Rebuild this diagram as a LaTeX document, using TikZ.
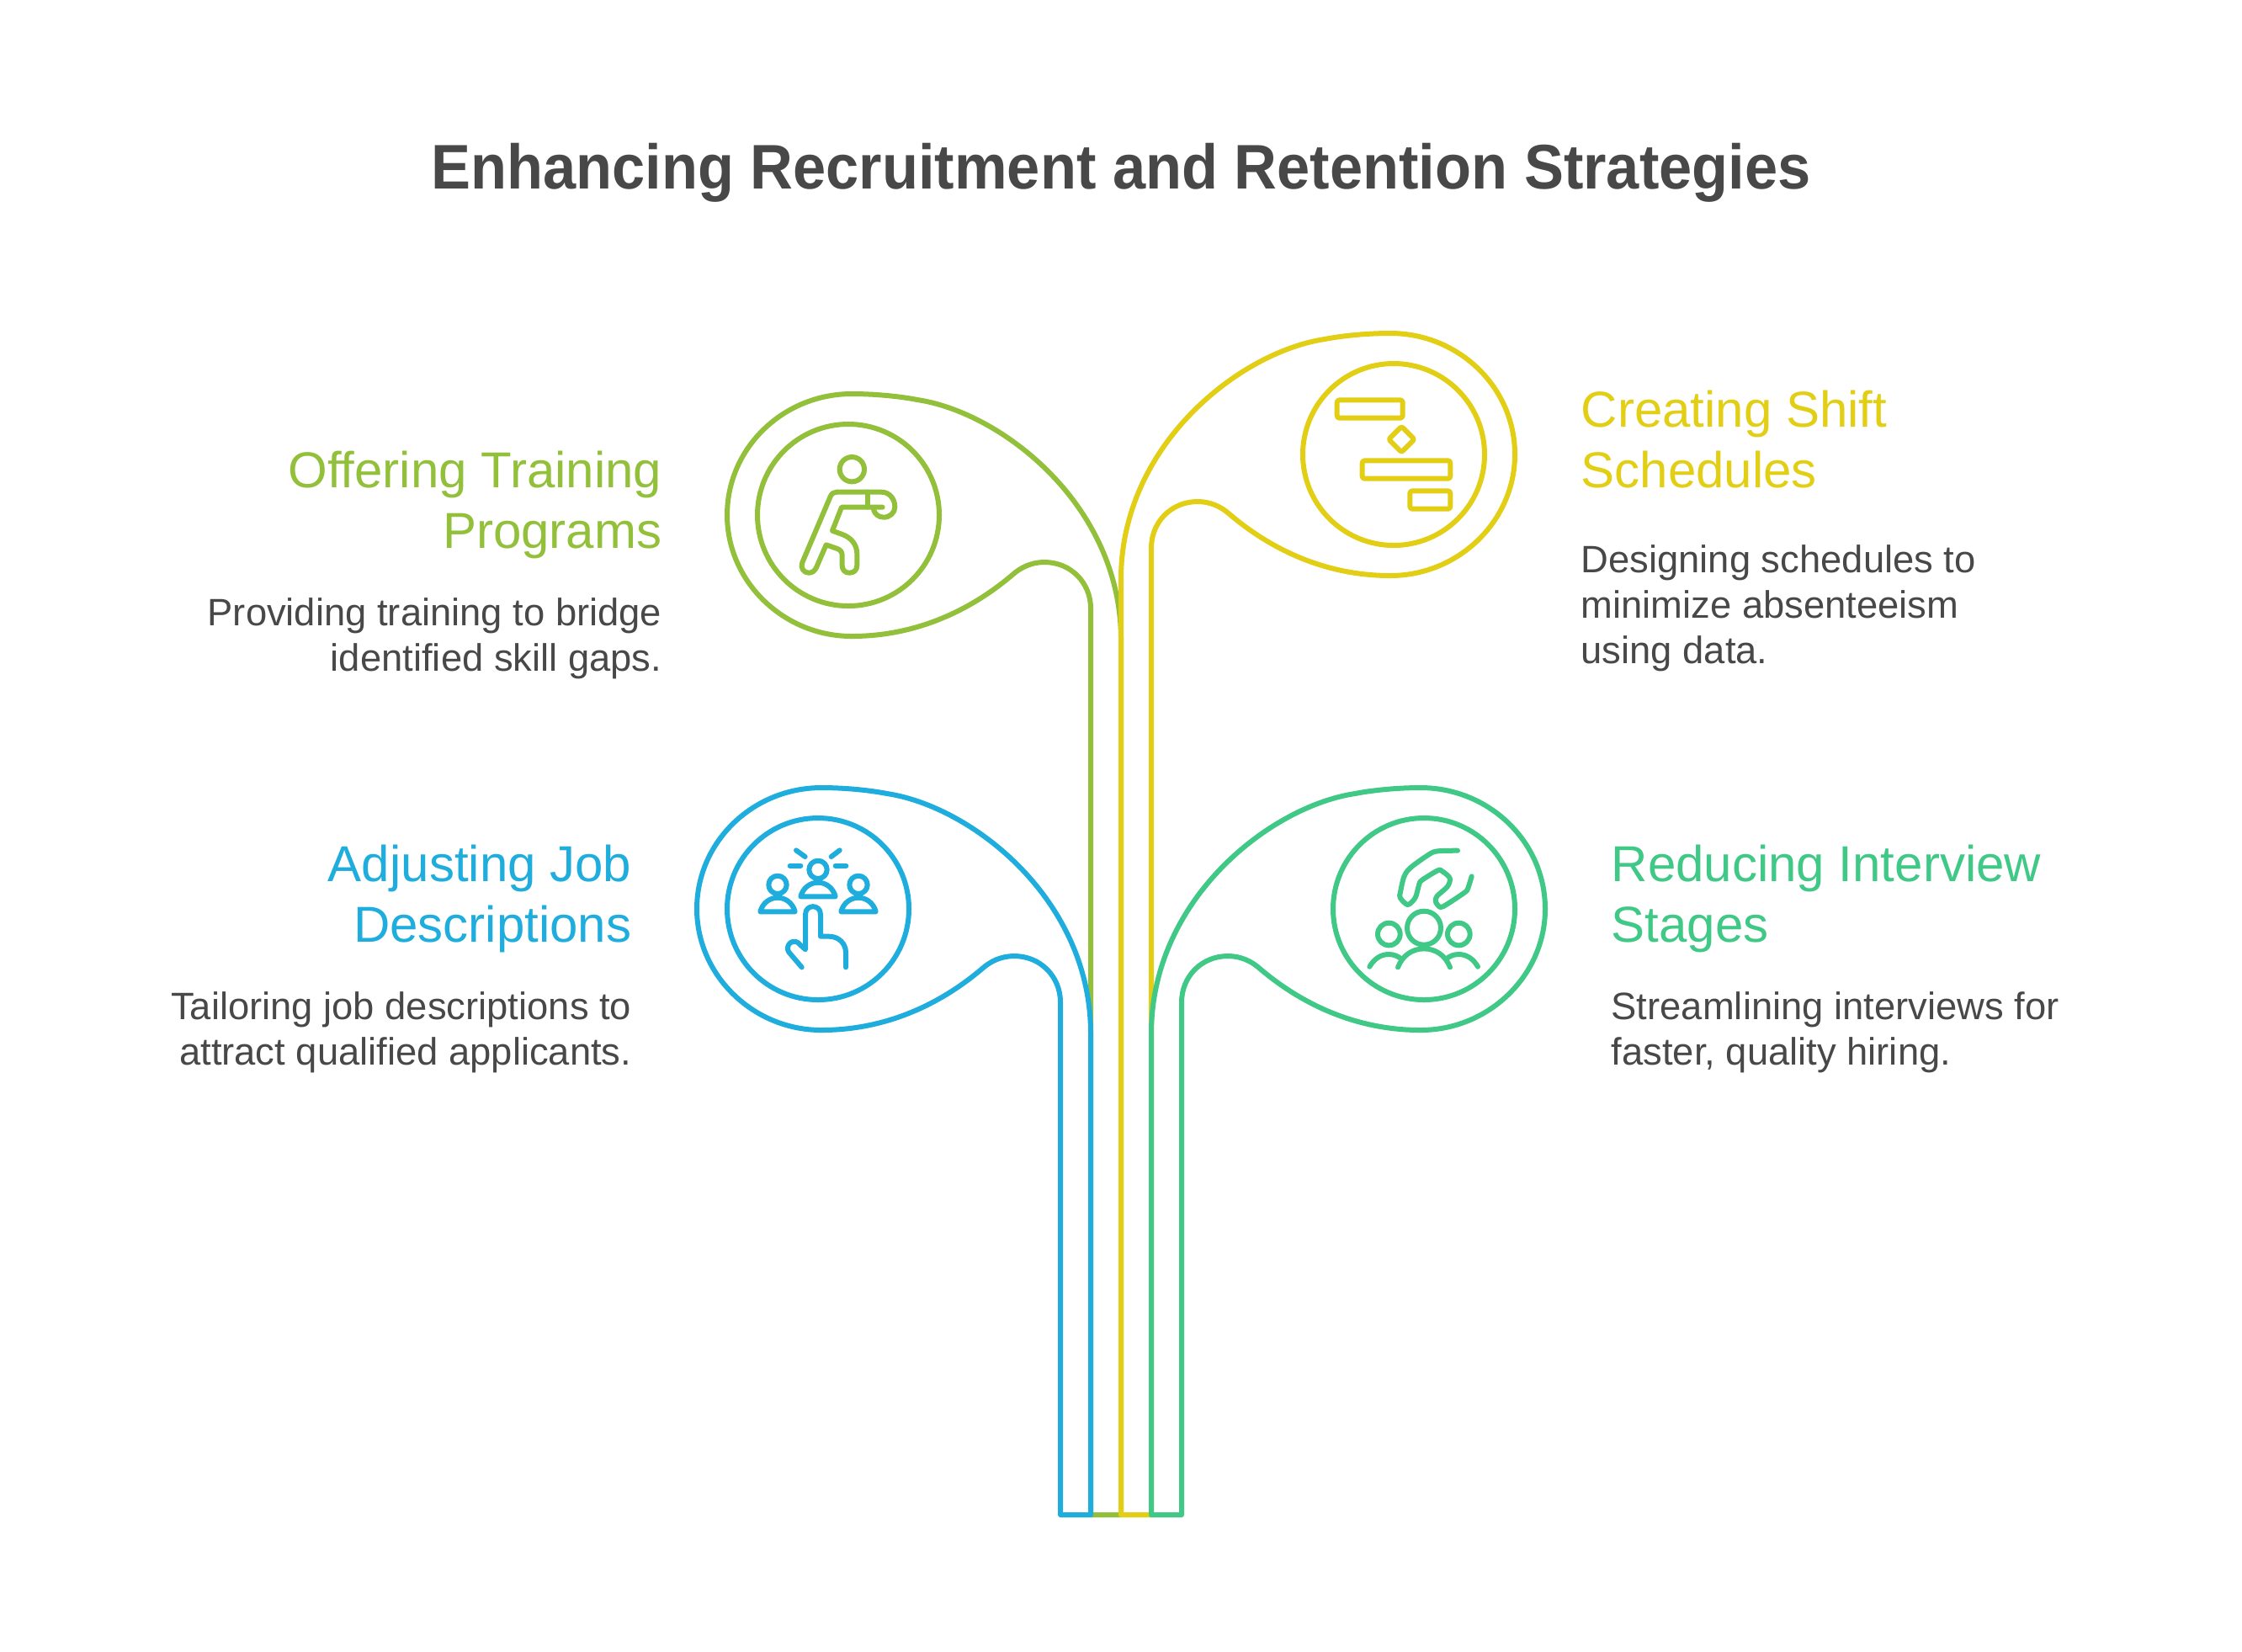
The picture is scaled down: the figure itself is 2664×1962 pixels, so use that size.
\documentclass[tikz,border=0pt]{standalone}
\usepackage{fontspec}
\setmainfont{Liberation Sans}
\newfontfamily\titlefont{Liberation Sans}[FakeStretch=0.94]
\definecolor{leafgreen}{HTML}{93C03B}
\definecolor{leafyellow}{HTML}{E2CE14}
\definecolor{leafblue}{HTML}{1FADDD}
\definecolor{leafteal}{HTML}{40C887}
\definecolor{inktext}{HTML}{484848}
\tikzset{
	leafline/.style={line width=0.06cm, line join=round, line cap=round},
	titletext/.style={inner sep=0, text=inktext, font=\fontsize{21.3pt}{25pt}\titlefont\bfseries},
	headtext/.style={inner sep=0, font=\fontsize{17.07pt}{20.48pt}\selectfont},
	bodytext/.style={inner sep=0, text=inktext, font=\fontsize{12.9pt}{15.36pt}\selectfont},
}
% one leaf: stem down to y=#2, outer outline and inner ring
\def\leafshape[#1](#2){\draw[leafline,#1] (1296,#2) -- (1296,723)
	.. controls (1296,692) and (1272,668) .. (1241,668)
	.. controls (1226,668) and (1213,674) .. (1203,683)
	.. controls (1150,728) and (1085,756) .. (1012,756)
	.. controls (931,756) and (864,691) .. (864,612)
	.. controls (864,532) and (931,468) .. (1012,468)
	.. controls (1045,468) and (1075,472) .. (1090,475)
	.. controls (1190,490) and (1332,600) .. (1332,760)
	-- (1332,#2) -- cycle
	(1008,612) circle (108);}

\begin{document}
\begin{tikzpicture}[x=0.01cm, y=-0.01cm]
	\useasboundingbox (0,0) rectangle (2664,1962);

	\node[titletext, anchor=base] (title) at (1332,224) {Enhancing Recruitment and Retention Strategies};

	%%%%% LEAVES %%%%%
	\leafshape[leafgreen](1800);
	\leafshape[leafyellow, shift={(2664,-72)}, xscale=-1](1872);
	\leafshape[leafblue, shift={(-36,468)}](1332);
	\leafshape[leafteal, shift={(2700,468)}, xscale=-1](1332);

	%%%%% ICONS %%%%%
	\begin{scope}[shift={(840,440)}, scale=1/3, leafline, leafgreen]
		\draw (517,353) circle (44);
		\draw (462,434) -- (622,434) .. controls (650,434) and (670,458) .. (670,487)
			.. controls (670,508) and (652,524) .. (630,524) .. controls (612,524) and (598,512) .. (594,497);
		\draw (572,434) -- (572,488);
		\draw (626,488) -- (480,488) -- (447,572) -- (480,584)
			.. controls (515,596) and (535,622) .. (535,655) -- (535,695)
			.. controls (535,712) and (524,722) .. (508,722) .. controls (492,722) and (482,712) .. (482,695)
			-- (482,660) .. controls (482,648) and (476,640) .. (465,636) -- (425,622) -- (390,703)
			.. controls (384,716) and (374,722) .. (363,722) .. controls (345,722) and (332,704) .. (340,685)
			-- (440,450) .. controls (444,440) and (452,434) .. (462,434);
	\end{scope}

	\begin{scope}[shift={(1320,380)}, scale=1/3, leafline, leafyellow, rounded corners=0.8pt]
		\draw (806,286) rectangle (1040,350);
		\draw (896,502) rectangle (1210,566);
		\draw (1066,610) rectangle (1210,674);
		\draw (1036,380) -- (1082,426) -- (1036,472) -- (990,426) -- cycle;
	\end{scope}

	\begin{scope}[shift={(810,920)}, scale=1/3, leafline, leafblue]
		\foreach \hx/\hy in {486/340, 342/394, 630/394} {
			\draw (\hx,\hy) circle (32);
			\draw ({\hx-62},{\hy+96}) .. controls ({\hx-54},{\hy+65}) and ({\hx-28},{\hy+46}) .. (\hx,{\hy+46})
				.. controls ({\hx+28},{\hy+46}) and ({\hx+54},{\hy+65}) .. ({\hx+62},{\hy+96}) -- cycle;
		}
		\draw (408,271) -- (440,294);
		\draw (563,271) -- (533,294);
		\draw (386,326) -- (424,326);
		\draw (548,326) -- (586,326);
		\draw (428,688) -- (382,634) .. controls (368,612) and (392,586) .. (414,600) -- (441,625) -- (441,500)
			.. controls (441,462) and (495,462) .. (495,500) -- (495,578) -- (525,578)
			.. controls (560,578) and (585,604) .. (585,635) -- (585,688);
	\end{scope}

	\begin{scope}[shift={(1350,920)}, scale=1/3, leafline, leafteal]
		\draw (1026,548) circle (60);
		\draw (901,570) circle (40);
		\draw (1150,570) circle (40);
		\draw (933,688) .. controls (950,645) and (985,622) .. (1026,622) .. controls (1067,622) and (1102,645) .. (1119,688);
		\draw (832,686) .. controls (848,658) and (872,642) .. (900,642) .. controls (918,642) and (932,648) .. (945,658);
		\draw (1218,686) .. controls (1202,658) and (1178,642) .. (1150,642) .. controls (1132,642) and (1118,648) .. (1106,658);
		\draw plot[smooth, tension=0.5] coordinates {(1146,272) (1075,274) (1045,285) (978,333) (955,365) (942,420)
			(941,440) (968,465) (995,440) (1008,395) (1018,378) (1075,343) (1090,345) (1118,370) (1110,400)
			(1072,435) (1068,455) (1085,474) (1110,462) (1170,422) (1182,408) (1196,364)};
	\end{scope}

	%%%%% TEXT %%%%%
	\node[headtext, text=leafgreen, anchor=base east, align=right] (offerhead) at (787,651) {Offering Training\\Programs};
	\node[bodytext, anchor=base east, align=right] (offerbody) at (787,797) {Providing training to bridge\\identified skill gaps.};

	\node[headtext, text=leafblue, anchor=base east, align=right] (adjusthead) at (751,1119) {Adjusting Job\\Descriptions};
	\node[bodytext, anchor=base east, align=right] (adjustbody) at (751,1265) {Tailoring job descriptions to\\attract qualified applicants.};

	\node[headtext, text=leafyellow, anchor=base west, align=left] (shifthead) at (1878,579) {Creating Shift\\Schedules};
	\node[bodytext, anchor=base west, align=left] (shiftbody) at (1878,788) {Designing schedules to\\minimize absenteeism\\using data.};

	\node[headtext, text=leafteal, anchor=base west, align=left] (reducehead) at (1914,1119) {Reducing Interview\\Stages};
	\node[bodytext, anchor=base west, align=left] (reducebody) at (1914,1265) {Streamlining interviews for\\faster, quality hiring.};
\end{tikzpicture}
\end{document}
